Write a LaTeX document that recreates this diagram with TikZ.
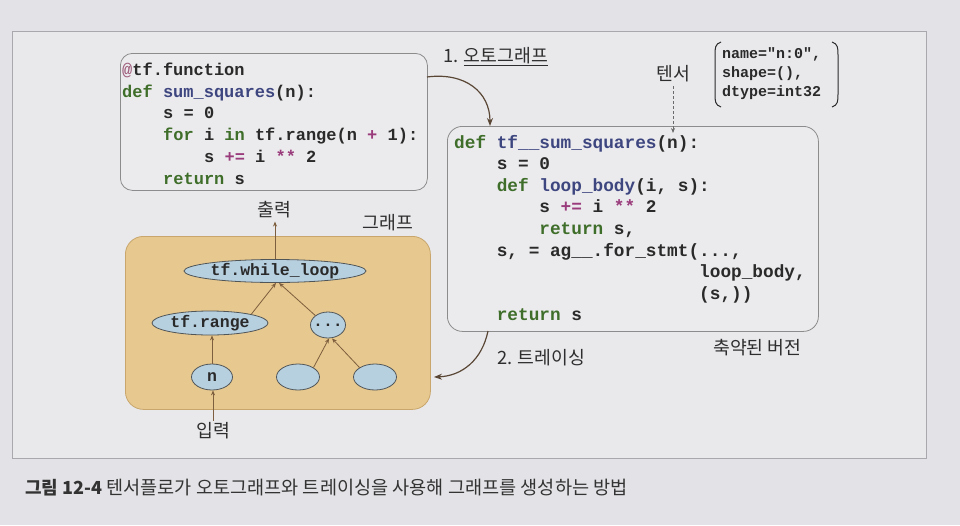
\documentclass[tikz,border=0pt]{standalone}
\usepackage{fontspec}
\setmonofont{Liberation Mono}
\newfontfamily\kr{Noto Sans CJK KR}
\usetikzlibrary{shapes.geometric,arrows.meta}
\definecolor{pagebg}{HTML}{E3E3E7}
\definecolor{framebg}{HTML}{E9E9EC}
\definecolor{framec}{HTML}{A9A9AD}
\definecolor{boxc}{HTML}{8C8C8C}
\definecolor{boxfill}{HTML}{EBEBED}
\definecolor{codec}{HTML}{2A2A2A}
\definecolor{kwc}{HTML}{3F6E2A}
\definecolor{fnc}{HTML}{3E4680}
\definecolor{opc}{HTML}{9A3C7C}
\definecolor{decoc}{HTML}{A0607E}
\definecolor{tanfill}{HTML}{E7C88E}
\definecolor{tanborder}{HTML}{C8A66C}
\definecolor{ellfill}{HTML}{B7D0E0}
\definecolor{ellc}{HTML}{505558}
\definecolor{arrc}{HTML}{7D5E3E}
\definecolor{curvc}{HTML}{5A4634}
\definecolor{dashc}{HTML}{6A6A6A}
\definecolor{textc}{HTML}{2E2E2E}
\definecolor{captc}{HTML}{333333}
\newcommand\kw[1]{\textcolor{kwc}{#1}}
\newcommand\fn[1]{\textcolor{fnc}{#1}}
\newcommand\op[1]{\textcolor{opc}{#1}}
\begin{document}
\begin{tikzpicture}[x=1pt,y=-1pt,
  codebox/.style={draw=boxc, fill=boxfill, line width=0.8pt, rounded corners=12pt, inner sep=0pt, anchor=north west},
  lcode/.style={anchor=base west, inner sep=0pt, text=codec, font=\ttfamily\bfseries\fontsize{17}{20}\selectfont},
  rcode/.style={anchor=base west, inner sep=0pt, text=codec, font=\ttfamily\bfseries\fontsize{17.75}{20}\selectfont},
  tcode/.style={anchor=base west, inner sep=0pt, text=codec, font=\ttfamily\bfseries\fontsize{15}{18}\selectfont},
  gnode/.style={ellipse, draw=ellc, fill=ellfill, line width=0.8pt, inner sep=0pt, text=codec, font=\ttfamily\bfseries\fontsize{16.5}{18}\selectfont},
  krlabel/.style={inner sep=0pt, text=textc, font=\kr\fontsize{18.3}{21}\selectfont},
  garrow/.style={draw=arrc, line width=0.8pt, -{Stealth[length=5pt,width=4pt]}},
  bigarrow/.style={draw=curvc, line width=1.2pt, -{Stealth[length=8pt,width=6pt]}},
  dasharrow/.style={draw=dashc, line width=0.9pt, dash pattern=on 3pt off 2pt, -{Stealth[length=5pt,width=4pt]}},
  paren/.style={draw=codec, line width=1pt}
]
\useasboundingbox (0,0) rectangle (960,525);
\fill[pagebg] (0,0) rectangle (960,525);
\draw[framec, fill=framebg, line width=0.6pt] (12,31) rectangle (926,458);

% left code box
\node[codebox, minimum width=307pt, minimum height=137pt] (lbox) at (120,53) {};
\node[lcode] (l1) at (122,75) {\textcolor{decoc}{@}tf.function};
\node[lcode] (l2) at (122,97) {\kw{def} \fn{sum\_squares}(n):};
\node[lcode] (l3) at (163,118) {s = 0};
\node[lcode] (l4) at (163,140) {\kw{for} i \kw{in} tf.range(n \op{+} 1):};
\node[lcode] (l5) at (204,162) {s \op{+=} i \op{**} 2};
\node[lcode] (l6) at (163,184) {\kw{return} s};

% right code box
\node[codebox, rounded corners=15pt, minimum width=371pt, minimum height=205pt] (rbox) at (447,126) {};
\node[rcode] (r1) at (454,148) {\kw{def} \fn{tf\_\_sum\_squares}(n):};
\node[rcode] (r2) at (496.6,169.6) {s = 0};
\node[rcode] (r3) at (496.6,191.2) {\kw{def} \fn{loop\_body}(i, s):};
\node[rcode] (r4) at (539.2,212.8) {s \op{+=} i \op{**} 2};
\node[rcode] (r5) at (539.2,234.4) {\kw{return} s,};
\node[rcode] (r6) at (496.6,256) {s, = ag\_\_.for\_stmt(...,};
\node[rcode] (r7) at (699,277.6) {loop\_body,};
\node[rcode] (r8) at (699,299.2) {(s,))};
\node[rcode] (r9) at (496.6,320.8) {\kw{return} s};

% tensor attributes
\node[tcode] (t1) at (722,58) {name="n:0",};
\node[tcode] (t2) at (722,77) {shape=(),};
\node[tcode] (t3) at (722,96) {dtype=int32};
\draw[paren] (721,42) .. controls (715,44) and (715,48) .. (715,55) -- (715,94) .. controls (715,101) and (715,105) .. (721,107);
\draw[paren] (832,42) .. controls (838,44) and (838,48) .. (838,55) -- (838,94) .. controls (838,101) and (838,105) .. (832,107);

% graph box
\node[draw=tanborder, fill=tanfill, line width=0.8pt, rounded corners=18pt, inner sep=0pt, anchor=north west, minimum width=305pt, minimum height=173pt] (gbox) at (125,236) {};
\node[gnode, minimum width=164pt, minimum height=23pt] (wl) at (275,271) {tf.while\_loop};
\node[gnode, minimum width=116pt, minimum height=24pt] (rng) at (210,323) {tf.range};
\node[gnode, minimum width=35pt, minimum height=26pt] (dots) at (328,325) {\makebox[0pt]{...}};
\node[gnode, minimum width=41pt, minimum height=26pt] (nn) at (212,377) {n};
\node[gnode, minimum width=43pt, minimum height=26pt] (e1) at (298,377) {};
\node[gnode, minimum width=43pt, minimum height=26pt] (e2) at (375,377) {};

\node[krlabel] (outl) at (274,210) {출력};
\node[krlabel] (graphl) at (388,223) {그래프};
\node[krlabel] (inl) at (213,431) {입력};

\draw[garrow] (nn.north) -- (nn.north |- rng.south);
\draw[garrow] (rng.north east) -- ([xshift=1pt]wl.south);
\draw[garrow] (dots.north west) -- ([xshift=4pt]wl.south);
\draw[garrow] (e1.north east) -- ([xshift=1pt]dots.south);
\draw[garrow] (e2.north west) -- ([xshift=4pt]dots.south);
\draw[garrow, shorten >=3pt] (wl.north) -- (wl.north |- outl.south);
\draw[garrow, shorten <=2pt] (inl.north) -- (inl.north |- nn.south);

% labels
\node[krlabel, anchor=west] (auto) at (443,57) {1. \underline{오토그래프}};
\node[krlabel, anchor=west] (trace) at (497,358) {2. 트레이싱};
\node[krlabel] (tensor) at (673,74) {텐서};
\node[krlabel, anchor=west] (short) at (713,348) {축약된 버전};

\draw[dasharrow, shorten <=4pt] (tensor.south) -- ([yshift=-7pt]tensor.south |- rbox.north);

% curved arrows
\coordinate (a1s) at (427,77);
\coordinate (a1e) at (490,126);
\draw[bigarrow] (a1s) .. controls (465,72) and (490,92) .. (a1e);
\coordinate (a2s) at (488,331);
\coordinate (a2e) at (434,377);
\draw[bigarrow] (a2s) .. controls (482,360) and (462,376) .. (a2e);

% caption
\node[anchor=west, inner sep=0pt, text=captc, font=\kr] (cap) at (25,488) {{\fontsize{18}{21}\selectfont\bfseries 그림 12-4}\fontsize{18.6}{21}\selectfont\ 텐서플로가 오토그래프와 트레이싱을 사용해 그래프를 생성하는 방법};
\end{tikzpicture}
\end{document}
